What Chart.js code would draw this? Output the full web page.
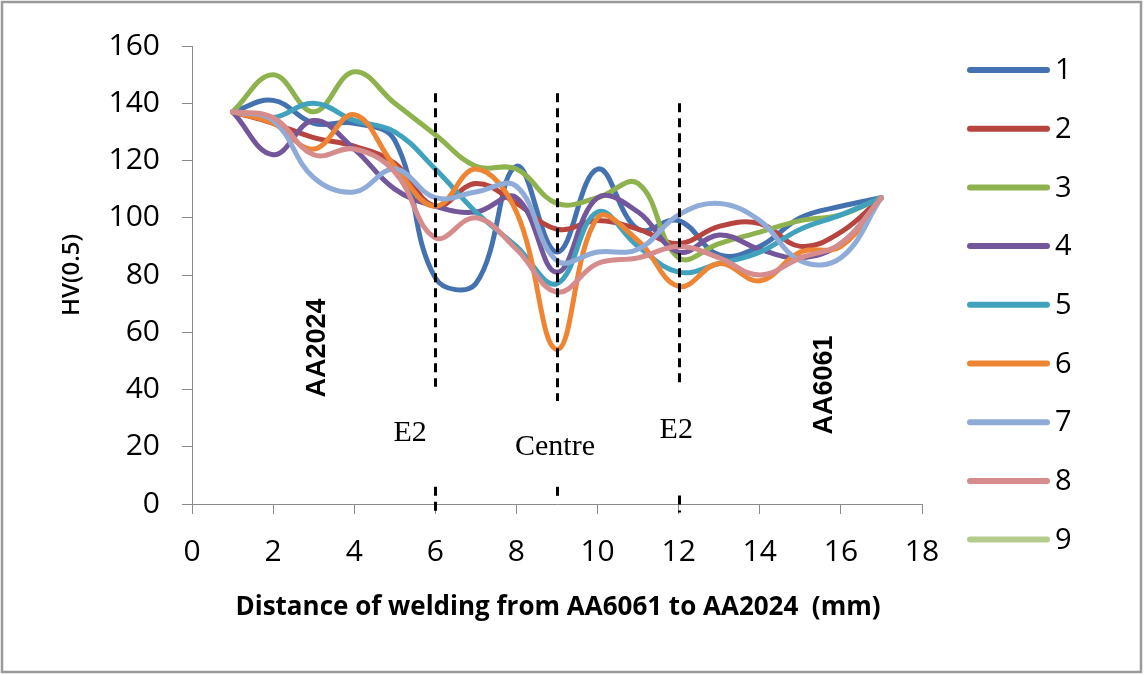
<!DOCTYPE html>
<html>
<head>
<meta charset="utf-8">
<script src="https://cdn.jsdelivr.net/npm/chart.js@4.4.0/dist/chart.umd.min.js"></script>
<style>
html,body{margin:0;padding:0;background:#fff;}
#wrap{width:1144px;height:675px;position:relative;}
</style>
</head>
<body>
<div id="wrap"><canvas id="c" width="1144" height="675"></canvas></div>
<script>
// ---- data ----
const positions = [1,2,3,4,5,6,7,8,9,10,11,12,13,14,15,16,17];
const seriesNames = ['1','2','3','4','5','6','7','8','9'];
const series1 = [137,141,133,133,127,79,77,118,88,117,96,99,87,90,100,104,107];
const series2 = [137,133,128,125,119,104,112,105,96,99,96,91,97,98,90,95,107];
const series3 = [137,150,137,151,140,129,118,117,105,107,112,86,91,95,99,101,107];
const series4 = [137,122,134,124,110,104,102,107,81,107,102,88,94,89,86,91,107];
const series5 = [137,135,140,134,130,117,102,90,77,102,90,81,84,88,96,101,107];
const series6 = [137,133,124,136,118,104,117,102,54,100,92,76,84,78,88,90,107];
const series7 = [137,134,114,109,117,107,109,111,85,88,89,101,105,99,85,86,107];
const series8 = [137,135,122,124,116,93,100,89,74,84,86,90,86,80,86,91,107];
const series9 = [];
const xTicks = [0,2,4,6,8,10,12,14,16,18];
const yTicks = [0,20,40,60,80,100,120,140,160];
const zoneLines = [6,9,12];
const zoneText = [
  {text:'E2', x:5.38, y:24.8},
  {text:'Centre', x:8.95, y:19.9},
  {text:'E2', x:11.94, y:25.9}
];
const materialText = [
  {text:'AA2024', x:3.1, y:54.5},
  {text:'AA6061', x:15.6, y:41.6}
];

const colors = ['#4472b0','#b8443f','#8db24e','#73579a','#40a2bd','#ee8535','#8fabd8','#d68c8c','#b3cc8e'];
const allSeries = [series1,series2,series3,series4,series5,series6,series7,series8,series9];

const datasets = allSeries.map((vals, i) => ({
  label: seriesNames[i],
  data: vals.map((v, j) => ({x: positions[j], y: v})),
  borderColor: colors[i],
  backgroundColor: colors[i],
  borderWidth: 5,
  pointRadius: 0,
  pointHoverRadius: 0,
  tension: 0.4,
  fill: false,
  borderCapStyle: 'round',
  borderJoinStyle: 'round',
  order: 10 - i
}));

const AXIS = '#8a8a8a';
const SANS = '"Open Sans", "Liberation Sans", sans-serif';

const overlay = {
  id: 'overlay',
  beforeDraw(chart) {
    const c = chart.ctx;
    c.save();
    c.fillStyle = '#fff';
    c.fillRect(0, 0, chart.width, chart.height);
    c.restore();
  },
  afterDatasetsDraw(chart) {
    const c = chart.ctx, x = chart.scales.x, y = chart.scales.y;
    c.save();
    c.strokeStyle = '#000';
    c.lineWidth = 3;
    c.setLineDash([9, 6]);
    const segs = {6: [[143.5, 41], [6, -3]], 9: [[143.5, 36], [6, 1]], 12: [[140, 42], [3, -3]]};
    zoneLines.forEach(v => {
      const px = Math.round(x.getPixelForValue(v)) + 0.5;
      segs[v].forEach(([a, b]) => {
        c.beginPath();
        c.moveTo(px, y.getPixelForValue(a));
        c.lineTo(px, y.getPixelForValue(b));
        c.stroke();
      });
    });
    c.setLineDash([]);
    c.fillStyle = '#000';
    c.textAlign = 'center';
    c.textBaseline = 'middle';
    c.font = '30px "Liberation Serif", "Times New Roman", serif';
    zoneText.forEach(t => c.fillText(t.text, x.getPixelForValue(t.x), y.getPixelForValue(t.y)));
    c.font = 'bold 27px "Liberation Sans", Arial, sans-serif';
    materialText.forEach(t => {
      c.save();
      c.translate(x.getPixelForValue(t.x), y.getPixelForValue(t.y));
      c.rotate(-Math.PI / 2);
      c.fillText(t.text, 0, 0);
      c.restore();
    });
    c.restore();
  },
  afterDraw(chart) {
    const c = chart.ctx, a = chart.chartArea;
    c.save();
    c.fillStyle = '#000';
    c.textAlign = 'center';
    c.textBaseline = 'middle';
    // axis titles
    c.font = 'bold 26px ' + SANS;
    c.fillText('Distance of welding from AA6061 to AA2024  (mm)', (a.left + a.right) / 2 + 1, 608, 660);
    c.save();
    c.translate(72, 275);
    c.rotate(-Math.PI / 2);
    c.font = '600 24px ' + SANS;
    c.fillText('HV(0.5)', 0, 0);
    c.restore();
    // legend
    c.textAlign = 'left';
    c.font = '29px ' + SANS;
    chart.data.datasets.forEach((ds, i) => {
      const cy = 70 + i * 58.7;
      c.strokeStyle = ds.borderColor;
      c.lineWidth = 6;
      c.lineCap = 'round';
      c.beginPath();
      c.moveTo(970, cy);
      c.lineTo(1047, cy);
      c.stroke();
      c.fillText(ds.label, 1055, cy + 1);
    });
    // frame
    c.strokeStyle = '#9a9a9a';
    c.lineWidth = 2.5;
    c.strokeRect(2, 2, 1139, 670);
    c.restore();
  }
};

new Chart(document.getElementById('c'), {
  type: 'line',
  data: { datasets },
  options: {
    responsive: false,
    animation: false,
    devicePixelRatio: 1,
    layout: { padding: { left: 0, top: 46, right: 222, bottom: 0 } },
    plugins: { legend: { display: false }, tooltip: { enabled: false } },
    scales: {
      x: {
        type: 'linear', min: 0, max: 18,
        afterFit(s) { s.height = 171; },
        afterBuildTicks(s) { s.ticks = xTicks.map(v => ({value: v})); },
        ticks: { color: '#000', font: { size: 30, family: SANS }, padding: 20, maxRotation: 0, autoSkip: false },
        grid: { drawOnChartArea: false, drawTicks: true, tickLength: 10, color: AXIS, lineWidth: 1 },
        border: { color: AXIS, width: 1 }
      },
      y: {
        type: 'linear', min: 0, max: 160,
        afterFit(s) { s.width = 192; },
        afterBuildTicks(s) { s.ticks = yTicks.map(v => ({value: v})); },
        ticks: { color: '#000', font: { size: 30, family: SANS }, padding: 22, autoSkip: false },
        grid: { drawOnChartArea: false, drawTicks: true, tickLength: 10, color: AXIS, lineWidth: 1 },
        border: { color: AXIS, width: 1 }
      }
    }
  },
  plugins: [overlay]
});
</script>
</body>
</html>
